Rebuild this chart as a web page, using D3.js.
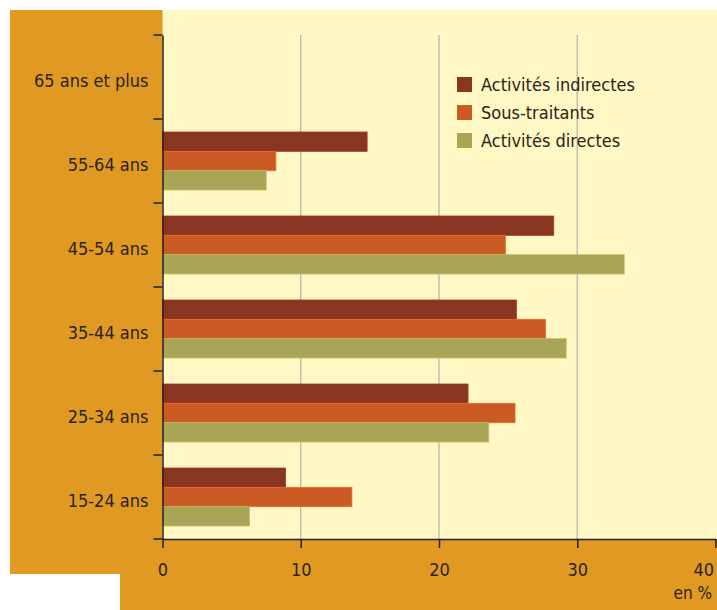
<!DOCTYPE html>
<html>
<head>
<meta charset="utf-8">
<script src="https://cdn.jsdelivr.net/npm/d3@7"></script>
<style>
  body { margin: 0; background: #fff; }
  svg text { font-family: "Liberation Sans Narrow", "DejaVu Sans Condensed", sans-serif; fill: #2b2418; }
</style>
</head>
<body>
<div id="chart"></div>
<script>
// data
const categories = ["65 ans et plus", "55-64 ans", "45-54 ans", "35-44 ans", "25-34 ans", "15-24 ans"];
const seriesNames = ["Activités indirectes", "Sous-traitants", "Activités directes"];
const indirectes = [null, 14.8, 28.3, 25.6, 22.1, 8.9];
const sousTraitants = [null, 8.2, 24.8, 27.7, 25.5, 13.7];
const directes = [null, 7.5, 33.4, 29.2, 23.6, 6.3];
const xTicks = [0, 10, 20, 30, 40];
const colors = ["#883522", "#cb5b25", "#a8a556"];

const width = 717, height = 610;
const margin = { top: 35, right: 2, bottom: 71, left: 162.5 };

const svg = d3.select("#chart").append("svg").attr("width", width).attr("height", height);

// backgrounds
svg.append("rect").attr("x", 10).attr("y", 10).attr("width", width - 10).attr("height", 564).attr("fill", "#e09922");
svg.append("rect").attr("x", 120).attr("y", 530).attr("width", width - 120).attr("height", 80).attr("fill", "#e09922");
svg.append("rect").attr("x", margin.left).attr("y", 10).attr("width", width - margin.left).attr("height", height - margin.bottom - 10).attr("fill", "#fff7c4");

// scales
const xScale = d3.scaleLinear().domain([0, 40]).range([margin.left, 715.5]);
const yScale = d3.scaleBand().domain(categories).range([margin.top, height - margin.bottom]);
const inner = d3.scaleBand().domain(seriesNames).range([13, yScale.bandwidth() - 13]);
const colorScale = d3.scaleOrdinal().domain(seriesNames).range(colors);

// grid
svg.append("g")
  .selectAll("line")
  .data(xTicks.slice(1, -1))
  .join("line")
  .attr("x1", (d) => xScale(d)).attr("x2", (d) => xScale(d))
  .attr("y1", margin.top).attr("y2", height - margin.bottom)
  .attr("stroke", "#b5b2a6").attr("stroke-width", 1.2);

// bars
const rows = [indirectes, sousTraitants, directes];
const barData = [];
categories.forEach((c, i) => {
  seriesNames.forEach((s, j) => {
    if (rows[j][i] != null) barData.push({ cat: c, series: s, value: rows[j][i] });
  });
});

svg.append("g")
  .selectAll("rect")
  .data(barData)
  .join("rect")
  .attr("x", xScale(0))
  .attr("y", (d) => yScale(d.cat) + inner(d.series))
  .attr("width", (d) => xScale(d.value) - xScale(0))
  .attr("height", inner.bandwidth())
  .attr("fill", (d) => colorScale(d.series))
  .attr("stroke", (d) => d3.color(colorScale(d.series)).brighter(0.4))
  .attr("stroke-width", 0.8);

// axes
const xAxis = d3.axisBottom(xScale).tickValues(xTicks).tickSize(9).tickPadding(14).tickSizeOuter(0);
const gx = svg.append("g")
  .attr("transform", `translate(0,${height - margin.bottom})`)
  .call(xAxis);
gx.select(".domain").attr("stroke", "#222").attr("stroke-width", 1.5);
gx.selectAll(".tick line").attr("stroke", "#222").attr("stroke-width", 1.5);
gx.selectAll(".tick text").attr("font-size", 18).attr("dy", "0.75em");
gx.selectAll(".tick").filter((d) => d === 40).select("text").attr("text-anchor", "end").attr("dx", "-2");

svg.append("text")
  .attr("x", 712).attr("y", 599)
  .attr("text-anchor", "end")
  .attr("font-size", 17)
  .text("en %");

const yAxis = d3.axisLeft(yScale).tickSize(0).tickPadding(14);
const gy = svg.append("g")
  .attr("transform", `translate(${margin.left},0)`)
  .call(yAxis);
gy.select(".domain").attr("stroke", "#222").attr("stroke-width", 1.5);
gy.selectAll(".tick text").attr("font-size", 18).attr("dy", "0.55em");

// boundary ticks between bands
const bounds = categories.map((c) => yScale(c)).concat([height - margin.bottom]);
svg.append("g")
  .selectAll("line")
  .data(bounds)
  .join("line")
  .attr("x1", margin.left - 9).attr("x2", margin.left)
  .attr("y1", (d) => d).attr("y2", (d) => d)
  .attr("stroke", "#222").attr("stroke-width", 1.5);

// legend
const legend = svg.append("g").attr("transform", "translate(457,77)");
const items = legend.selectAll("g")
  .data(seriesNames)
  .join("g")
  .attr("transform", (d, i) => `translate(0,${i * 28})`);
items.append("rect").attr("width", 15).attr("height", 15).attr("fill", (d) => colorScale(d));
items.append("text").attr("x", 24).attr("y", 8).attr("dy", "0.35em").attr("font-size", 18).text((d) => d);
</script>
</body>
</html>
